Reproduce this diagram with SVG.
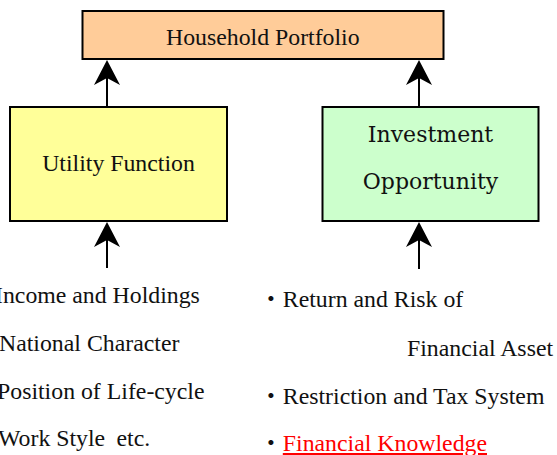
<svg xmlns="http://www.w3.org/2000/svg" width="557" height="455" viewBox="0 0 557 455">
<style>
.box{stroke:#000;stroke-width:2}
.t{font-family:"Liberation Serif","Times New Roman",serif;font-size:23.8px;fill:#111}
.c{font-family:"DejaVu Serif",serif;font-size:22px;fill:#111}
.b{font-family:"Liberation Serif","Noto Sans CJK JP",serif;font-size:23.8px;fill:#111}
.conn{stroke:#000;stroke-width:2;fill:none;marker-end:url(#ah)}
</style>
<defs>
<marker id="ah" markerUnits="userSpaceOnUse" viewBox="0 0 25 26" refX="7" refY="13" markerWidth="25" markerHeight="26" orient="auto">
<path d="M25,13 L0,0 L7,13 L0,26 Z" fill="#000"/>
</marker>
</defs>
<rect width="557" height="455" fill="#fff"/>
<g id="household">
<rect class="box" x="82.5" y="11" width="361" height="48" fill="#FFCC99"/>
<text class="t" x="262.8" y="45" text-anchor="middle">Household Portfolio</text>
</g>
<g id="utility">
<rect class="box" x="10" y="107" width="217" height="114" fill="#FFFF99"/>
<text class="t" x="118.5" y="171" text-anchor="middle">Utility Function</text>
</g>
<g id="investment">
<rect class="box" x="322.5" y="107" width="216" height="114" fill="#CCFFCC"/>
<text class="c" x="430.5" y="141.5" text-anchor="middle">Investment</text>
<text class="c" x="430.5" y="189" text-anchor="middle">Opportunity</text>
</g>
<g id="utility-factors">
<text class="t" x="-5" y="302.5">Income and Holdings</text>
<text class="t" x="-1" y="350.5">National Character</text>
<text class="t" x="-3" y="398.5">Position of Life-cycle</text>
<text class="t" x="-2" y="446">Work Style<tspan x="116.5">etc.</tspan></text>
</g>
<g id="investment-factors">
<text class="b" x="259" y="307">・Return and Risk of</text>
<text class="t" x="407" y="355.5">Financial Asset</text>
<text class="b" x="259" y="403.5">・Restriction and Tax System</text>
<text class="b" x="259" y="451">・<tspan fill="#FF0000" text-decoration="underline">Financial Knowledge</tspan></text>
</g>
<g id="connectors">
<path class="conn" d="M107,107 V78"/>
<path class="conn" d="M419,107 V78"/>
<path class="conn" d="M107,268 V240"/>
<path class="conn" d="M419,269 V240"/>
</g>
</svg>
